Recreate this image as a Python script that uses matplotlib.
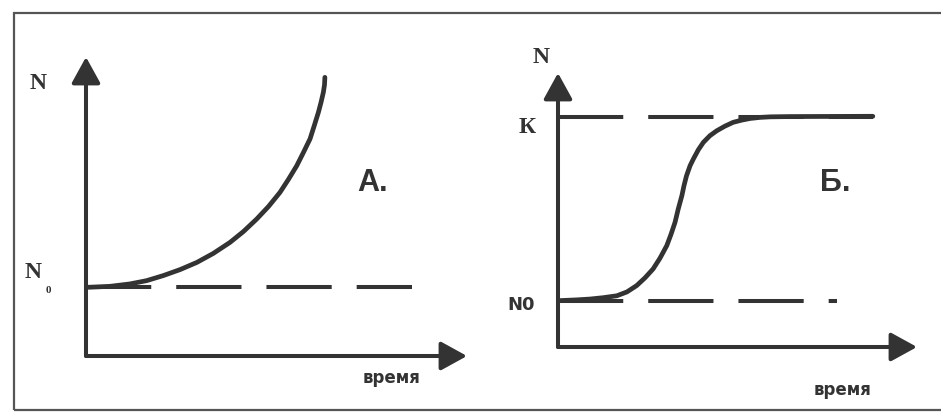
import matplotlib
matplotlib.use("Agg")
import matplotlib.pyplot as plt
from matplotlib.patches import Rectangle

# Кривые роста численности (условные единицы)
# А. экспоненциальный рост
t_exp = [0.0, 0.10, 0.63, 1.15, 1.59, 2.03, 2.47, 2.91, 3.34, 3.78, 4.13, 4.48, 4.79,
         5.09, 5.31, 5.53, 5.70, 5.88, 5.99, 6.10, 6.17, 6.23, 6.26, 6.27]
n_exp = [2.30, 2.30, 2.33, 2.41, 2.52, 2.69, 2.89, 3.13, 3.43, 3.80, 4.16, 4.58, 5.00,
         5.47, 5.90, 6.36, 6.79, 7.26, 7.70, 8.15, 8.49, 8.82, 9.07, 9.32]
n0_exp = 2.30
t_end_exp = 8.56

# Б. логистический рост
t_log = [0.0, 0.52, 0.89, 1.26, 1.64, 1.92, 2.19, 2.42, 2.65, 2.84, 3.03, 3.15, 3.26,
         3.35, 3.45, 3.51, 3.58, 3.68, 3.77, 3.91, 4.05, 4.23, 4.42, 4.65, 4.88, 5.12,
         5.35, 5.63, 5.91, 6.46, 8.77]
n_log = [1.69, 1.72, 1.75, 1.80, 1.87, 2.01, 2.24, 2.52, 2.85, 3.24, 3.70, 4.12, 4.55,
         5.04, 5.52, 5.89, 6.25, 6.62, 6.86, 7.20, 7.47, 7.71, 7.89, 8.06, 8.20, 8.28,
         8.34, 8.38, 8.40, 8.41, 8.42]
n0_log = 1.68
k_log = 8.41
t_end_n0 = 7.77
t_end_k = 8.77

W, H = 941, 414
ink = "#333333"
lw = 2.9
dash = (0, (16.2, 6.2))

fig = plt.figure(figsize=(W / 100, H / 100), dpi=100)
fig.patch.set_facecolor("white")

# рамка вокруг рисунка
fig.add_artist(Rectangle((14 / W, 3 / H), 1.0, (411 - 14) / H, transform=fig.transFigure,
                         fill=False, edgecolor="#555555", lw=1.6, clip_on=False))


def make_axes(x0, x1, y_bottom, y_top):
    ax = fig.add_axes([x0 / W, (H - y_bottom) / H, (x1 - x0) / W, (y_bottom - y_top) / H])
    ax.set_xlim(0, 10)
    ax.set_ylim(0, 10)
    ax.axis("off")
    st = "-|>,head_length=0.4,head_width=0.22"
    for tip in [(1, 0), (0, 1)]:
        ax.annotate("", xy=tip, xytext=(0, 0), xycoords="axes fraction",
                    arrowprops=dict(arrowstyle=st, color=ink, lw=lw, mutation_scale=40,
                                    shrinkA=0, shrinkB=0))
    return ax


serif = dict(family="Liberation Serif", weight="bold", color=ink)
sans = dict(family="DejaVu Sans", weight="bold", color=ink)
big = dict(family="Liberation Sans", weight="bold", color=ink, fontsize=22)

# ---- А ----
axA = make_axes(86, 467, 357, 58)
axA.plot([0, t_end_exp], [n0_exp, n0_exp], color=ink, lw=lw, linestyle=dash)
axA.plot(t_exp, n_exp, color=ink, lw=3.4, solid_capstyle="round", solid_joinstyle="round")
axA.text(-1.26, 9.16, "N", fontsize=17, ha="center", va="center", clip_on=False, **serif)
axA.text(-1.39, 2.84, "N", fontsize=17, ha="center", va="center", clip_on=False, **serif)
axA.text(-1.00, 2.22, "0", fontsize=8, ha="center", va="center", clip_on=False, **serif)
axA.text(7.11, 5.82, "А.", ha="left", va="center", clip_on=False, **big)
axA.text(8.01, -0.70, "время", fontsize=12, ha="center", va="center", clip_on=False, **sans)

# ---- Б ----
axB = make_axes(558, 917, 348, 74)
axB.plot([0, t_end_k], [k_log, k_log], color=ink, lw=lw, linestyle=dash)
axB.plot([0, t_end_n0], [n0_log, n0_log], color=ink, lw=lw, linestyle=dash)
axB.plot(t_log, n_log, color=ink, lw=3.4, solid_capstyle="round", solid_joinstyle="round")
axB.text(-0.47, 10.62, "N", fontsize=17, ha="center", va="center", clip_on=False, **serif)
axB.text(-0.86, 8.03, "К", fontsize=17, ha="center", va="center", clip_on=False, **serif)
axB.text(-1.03, 1.57, "N0", fontsize=13, ha="center", va="center", clip_on=False, **sans)
axB.text(7.30, 6.02, "Б.", ha="left", va="center", clip_on=False, **big)
axB.text(7.94, -1.53, "время", fontsize=12, ha="center", va="center", clip_on=False, **sans)

fig.savefig("out.png", dpi=100, facecolor="white")
